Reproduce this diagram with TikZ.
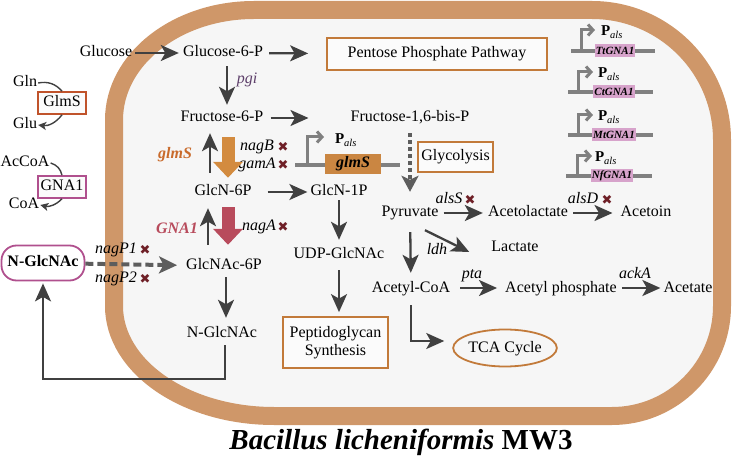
\documentclass[tikz,border=0pt]{standalone}
\usepackage{fontspec}
\setmainfont{Liberation Serif}
\newfontfamily\symbfont{DejaVu Sans}
\usetikzlibrary{arrows.meta,shapes.geometric}
\definecolor{wall}{HTML}{CF9769}
\definecolor{cyto}{HTML}{F6F6F6}
\definecolor{ink}{HTML}{404040}
\definecolor{boxorange}{HTML}{C27A3A}
\definecolor{glmsred}{HTML}{C0532B}
\definecolor{gnapink}{HTML}{B0508E}
\definecolor{glmscol}{HTML}{C96B2C}
\definecolor{glmsfill}{HTML}{CA8642}
\definecolor{fatorange}{HTML}{D38B3F}
\definecolor{fatred}{HTML}{B84B5C}
\definecolor{gnafill}{HTML}{D7A3CB}
\definecolor{knock}{HTML}{6E1F26}
\definecolor{pgicol}{HTML}{5D3F6A}
\definecolor{dna}{HTML}{808080}
\tikzset{
  lbl/.style={inner sep=1pt,text height=11pt,text depth=3pt,font=\fontsize{16}{18}\selectfont},
  enz/.style={lbl,font=\fontsize{16}{18}\selectfont\itshape},
  knockx/.style={inner sep=0pt,text=knock,font=\symbfont\fontsize{13}{13}\selectfont},
  endbox/.style={lbl,draw=boxorange,line width=1.8pt,fill=white!60!cyto},
  enzbox/.style={lbl,line width=1.6pt,fill=white!60!cyto,minimum width=48pt,minimum height=22pt},
  flow/.style={draw=ink,line width=2.3pt,-{Stealth[length=18pt,width=16pt,inset=4.5pt]}},
  thinflow/.style={draw=ink,line width=1.4pt,-{Stealth[length=8pt,width=8pt,inset=2pt]}},
  dashflow/.style={draw=ink!85,line width=4pt,dash pattern=on 8pt off 4pt,-{Stealth[length=18pt,width=17pt,inset=4.5pt]}},
  dotflow/.style={draw=ink!85,line width=4pt,dash pattern=on 4pt off 3pt,-{Stealth[length=16pt,width=17pt,inset=4pt]}},
  fatflow/.style={line width=13pt,-{Triangle[length=16pt,width=29pt]}},
  dnaline/.style={draw=dna,line width=3.5pt},
  promoter/.style={draw=dna,line width=3pt,-{Straight Barb[length=5pt,width=11pt]}},
  pals/.style={inner sep=0pt,font=\fontsize{15}{16}\selectfont},
  gnagene/.style={fill=gnafill,inner sep=1pt,minimum width=40pt,minimum height=13pt,font=\fontsize{11}{12}\selectfont\bfseries\itshape}
}
\begin{document}
\begin{tikzpicture}[x=1pt,y=-1pt]
\useasboundingbox (0,0) rectangle (736,462);
\draw[draw=wall,line width=18pt,fill=cyto] (254,10) -- (592,10) .. controls (663.8,10) and (722,68.2) .. (722,140) -- (722,306) .. controls (722,366.7) and (672.7,416) .. (612,416) -- (274,416) .. controls (185.6,416) and (114,366.7) .. (114,306) -- (114,120) .. controls (114,59.3) and (176.7,10) .. (254,10) -- cycle;

\node[lbl] (glucose) at (106,53) {Glucose};
\node[lbl] (g6p) at (223,53) {Glucose-6-P};
\node[endbox,minimum width=220pt,minimum height=32pt] (ppp) at (437,54) {Pentose Phosphate Pathway};
\node[enz,text=pgicol] (pgi) at (247,80) {pgi};
\node[lbl] (f6p) at (222,118) {Fructose-6-P};
\node[lbl] (f16p) at (410,118) {Fructose-1,6-bis-P};
\node[endbox,minimum width=75pt,minimum height=30pt] (glyco) at (455.5,157) {Glycolysis};
\node[enz,text=glmscol,font=\fontsize{16}{18}\selectfont\bfseries\itshape] (glmslbl) at (175,155) {glmS};
\node[enz] (nagb) at (257,147) {nagB};
\node[knockx] (xnagb) at (283,147) {✖};
\node[enz] (gama) at (257,165) {gamA};
\node[knockx] (xgama) at (283,165) {✖};
\node[lbl] (glcn6p) at (223,192) {GlcN-6P};
\node[lbl] (glcn1p) at (339,192) {GlcN-1P};
\node[enz,text=fatred,font=\fontsize{16}{18}\selectfont\bfseries\itshape] (gnalbl) at (177,230) {GNA1};
\node[enz] (naga) at (259,227) {nagA};
\node[knockx] (xnaga) at (283,227) {✖};
\node[lbl] (glcnac6p) at (224,266) {GlcNAc-6P};
\node[lbl] (nglc) at (222,333) {N-GlcNAc};
\node[lbl,draw=gnapink,line width=1.8pt,fill=white,rounded corners=15pt,minimum width=83pt,minimum height=35pt,font=\fontsize{16}{18}\selectfont\bfseries] (extnag) at (43,263) {N-GlcNAc};
\node[enz] (nagp1) at (116,250) {nagP1};
\node[knockx] (xnagp1) at (145,250) {✖};
\node[enz] (nagp2) at (116,279) {nagP2};
\node[knockx] (xnagp2) at (145,279) {✖};
\node[lbl] (udp) at (339,255) {UDP-GlcNAc};
\node[endbox,minimum width=105pt,minimum height=51pt,align=center,text height=,text depth=] (pepti) at (335.5,342.5) {Peptidoglycan\\Synthesis};
\node[lbl] (pyr) at (410,213) {Pyruvate};
\node[enz] (alss) at (449,200) {alsS};
\node[knockx] (xalss) at (470,200) {✖};
\node[lbl] (alac) at (528,213) {Acetolactate};
\node[enz] (alsd) at (583,200) {alsD};
\node[knockx] (xalsd) at (607,200) {✖};
\node[lbl] (acetoin) at (646,213) {Acetoin};
\node[enz] (ldh) at (437,251) {ldh};
\node[lbl] (lac) at (515,248) {Lactate};
\node[lbl] (acoa) at (411,288) {Acetyl-CoA};
\node[enz] (pta) at (472,275) {pta};
\node[lbl] (acp) at (561,288) {Acetyl phosphate};
\node[enz] (acka) at (635,275) {ackA};
\node[lbl] (acetate) at (688,288) {Acetate};
\node[lbl,ellipse,draw=boxorange,line width=1.8pt,minimum width=94pt,minimum height=37pt,inner sep=0pt] (tca) at (505,348) {TCA Cycle};

\node[lbl] (gln) at (25,83) {Gln};
\node[enzbox,draw=glmsred] (glmsbox) at (62,103) {GlmS};
\node[lbl] (glu) at (25,125) {Glu};
\node[lbl] (accoa) at (25,163) {AcCoA};
\node[enzbox,draw=gnapink] (gnabox) at (62,187) {GNA1};
\node[lbl] (coa) at (24,205) {CoA};

\draw[thinflow,-] (gln.east) to[bend left=30] (glmsbox.north);
\draw[thinflow] (glmsbox.south) to[bend left=30] (glu.east);
\draw[thinflow,-] (accoa.east) to[bend left=30] (gnabox.north);
\draw[thinflow] (gnabox.south) to[bend left=30] (coa.east);

\draw[flow,shorten <=2pt,shorten >=3pt] (glucose) -- (g6p);
\draw[flow,shorten <=5pt,shorten >=18pt] (g6p) -- (ppp);
\draw[flow,shorten <=5pt,shorten >=5pt] ([xshift=4pt]g6p.south) -- ([xshift=5pt]f6p.north);
\draw[flow,shorten <=6pt,shorten >=41pt] (f6p) -- (f16p);
\draw[dotflow,shorten <=7pt,shorten >=13pt] (f16p) -- (pyr);
\draw[flow,shorten <=11pt,shorten >=7pt] ([xshift=-13pt]glcn6p.north) -- ([xshift=-12pt]f6p.south);
\draw[fatflow,fatorange,shorten <=11pt,shorten >=6pt] ([xshift=6pt]f6p.south) -- ([xshift=5pt]glcn6p.north);
\draw[flow,shorten <=15pt,shorten >=2pt] (glcn6p) -- (glcn1p);
\draw[flow,shorten >=7pt] (glcn1p) -- (udp);
\draw[flow,shorten <=7pt,shorten >=4pt] (udp.south) -- (udp.south |- pepti.north);
\draw[flow,shorten <=4pt,shorten >=4pt] (pyr) -- (alac);
\draw[flow,shorten <=4pt,shorten >=7pt] (alac) -- (acetoin);
\draw[flow,shorten <=11pt,shorten >=7pt] (pyr) -- (acoa);
\draw[flow] ([shift={(15,9)}]pyr.south) -- ([shift={(-21,4)}]lac.west);
\draw[flow,shorten <=9pt,shorten >=7pt] (acoa) -- (acp);
\draw[flow,shorten <=4pt,shorten >=2pt] (acp) -- (acetate);
\draw[flow,shorten <=9pt,shorten >=8pt] (acoa.south) |- ([yshift=7pt]tca.west);
\draw[flow,shorten <=13pt,shorten >=8pt] ([xshift=-16pt]glcnac6p.north) -- ([xshift=-15pt]glcn6p.south);
\draw[fatflow,fatred,shorten <=7pt,shorten >=13pt] ([xshift=5pt]glcn6p.south) -- ([xshift=4pt]glcnac6p.north);
\draw[flow,shorten <=3pt,shorten >=7pt] ([xshift=2pt]glcnac6p.south) -- ([xshift=4pt]nglc.north);
\draw[dashflow,shorten >=8pt] (extnag) -- (glcnac6p);
\coordinate (back) at (43,379);
\draw[flow,line width=2pt,shorten <=4pt,shorten >=2pt] ([xshift=3pt]nglc.south) |- (back) -- (extnag.south);

\coordinate (gs1) at (295,165);
\coordinate (gs2) at (400,165);
\draw[dnaline] (gs1) -- (gs2);
\node[fill=glmsfill,minimum width=56pt,minimum height=20pt,inner sep=1pt,font=\fontsize{16}{18}\selectfont\bfseries\itshape] (glmsgene) at (353,164) {glmS};
\draw[promoter] (307,165) |- (324,137);
\node[pals] (gspals) at (346,140) {\textbf{P}\textsubscript{\textit{als}}};

\coordinate (tt1) at (571,51);
\coordinate (tt2) at (655,51);
\draw[dnaline] (tt1) -- (tt2);
\node[gnagene] (ttgna) at (615,51) {TtGNA1};
\draw[promoter] (581,51) |- (595,30);
\node[pals] (ttpals) at (612,32) {\textbf{P}\textsubscript{\textit{als}}};

\coordinate (ct1) at (568,92);
\coordinate (ct2) at (653,92);
\draw[dnaline] (ct1) -- (ct2);
\node[gnagene] (ctgna) at (614,92) {CtGNA1};
\draw[promoter] (578,92) |- (593,72);
\node[pals] (ctpals) at (609,74) {\textbf{P}\textsubscript{\textit{als}}};

\coordinate (mt1) at (568,135);
\coordinate (mt2) at (653,135);
\draw[dnaline] (mt1) -- (mt2);
\node[gnagene] (mtgna) at (614,135) {MtGNA1};
\draw[promoter] (578,135) |- (593,115);
\node[pals] (mtpals) at (609,117) {\textbf{P}\textsubscript{\textit{als}}};

\coordinate (nf1) at (566,176);
\coordinate (nf2) at (652,176);
\draw[dnaline] (nf1) -- (nf2);
\node[gnagene] (nfgna) at (612,176) {NfGNA1};
\draw[promoter] (577,176) |- (592,156);
\node[pals] (nfpals) at (606,158) {\textbf{P}\textsubscript{\textit{als}}};

\node[font=\fontsize{29}{32}\selectfont\bfseries] (title) at (401,442) {\textit{Bacillus licheniformis} MW3};
\end{tikzpicture}
\end{document}
